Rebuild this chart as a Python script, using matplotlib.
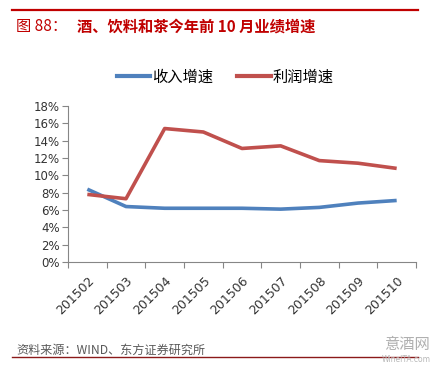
import matplotlib
matplotlib.use("Agg")
import matplotlib.pyplot as plt
from matplotlib.lines import Line2D
from matplotlib.ticker import FuncFormatter

plt.rcParams['font.family'] = ['Noto Sans CJK SC', 'DejaVu Sans']

months = ["201502", "201503", "201504", "201505", "201506",
          "201507", "201508", "201509", "201510"]
revenue = [8.4, 6.4, 6.2, 6.2, 6.2, 6.1, 6.3, 6.8, 7.1]
profit = [7.8, 7.3, 15.4, 15.0, 13.1, 13.4, 11.7, 11.4, 10.8]

BLUE = "#4F81BD"
RED = "#C0504D"
TITLE_RED = "#C00000"
AXIS = "#868686"

fig = plt.figure(figsize=(4.44, 3.80), dpi=100)
ax = fig.add_axes([68 / 444, 118 / 380, 348 / 444, 156 / 380])

x = list(range(len(months)))
ax.plot(x, revenue, color=BLUE, lw=2.6, solid_capstyle='butt')
ax.plot(x, profit, color=RED, lw=2.6, solid_capstyle='butt')

ax.set_xlim(-0.5, len(months) - 0.5)
ax.set_ylim(0, 18)
ax.set_yticks(range(0, 19, 2))
ax.yaxis.set_major_formatter(FuncFormatter(lambda v, p: f"{v:.0f}%"))
ax.set_xticks([i - 0.5 for i in range(len(months) + 1)])
ax.set_xticklabels([])
ax.set_xticks(x, minor=True)
ax.set_xticklabels(months, minor=True, rotation=45, ha='right',
                   rotation_mode='anchor', fontsize=9, family='DejaVu Sans',
                   color='#333333')
ax.tick_params(axis='x', which='minor', length=0, pad=9)
ax.tick_params(axis='x', which='major', length=4, color=AXIS)
ax.tick_params(axis='y', length=4, color=AXIS, labelsize=8.5, pad=2,
               labelcolor='#333333')
for lab in ax.get_yticklabels():
    lab.set_family('DejaVu Sans')
for s in ['top', 'right']:
    ax.spines[s].set_visible(False)
for s in ['left', 'bottom']:
    ax.spines[s].set_color(AXIS)

# legend
handles = [Line2D([], [], color=BLUE, lw=3), Line2D([], [], color=RED, lw=3)]
fig.legend(handles, ["收入增速", "利润增速"], loc='center',
           bbox_to_anchor=(225 / 444, 1 - 77 / 380), ncol=2, frameon=False,
           fontsize=11, handlelength=2.2, handletextpad=0.1, columnspacing=1.6)

# header and footer
fig.add_artist(Line2D([12 / 444, 418 / 444], [1 - 10 / 380] * 2, color=TITLE_RED, lw=1.6))
fig.text(16 / 444, 1 - 27 / 380, "图 88：", color=TITLE_RED, fontsize=11, va='center')
fig.text(77 / 444, 1 - 27 / 380, "酒、饮料和茶今年前 10 月业绩增速", color=TITLE_RED,
         fontsize=11, fontweight='bold', va='center')
fig.text(16 / 444, 1 - 350 / 380, "资料来源：WIND、东方证券研究所", color="#595959",
         fontsize=8.7, va='center')
fig.add_artist(Line2D([12 / 444, 418 / 444], [1 - 357 / 380] * 2, color="#8B1A1A", lw=1.0))
fig.text(430 / 444, 1 - 344 / 380, "意酒网", color="#B0B0B0", fontsize=11,
         ha='right', va='center')
fig.text(431 / 444, 1 - 359 / 380, "WineITA.com", color="#B8B8B8", fontsize=5.5,
         ha='right', va='center', family='DejaVu Sans')

fig.savefig("out.png", dpi=100)
